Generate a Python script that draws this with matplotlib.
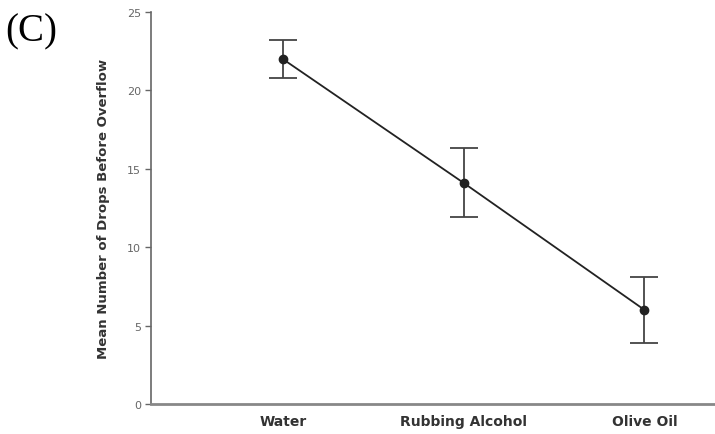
import matplotlib
matplotlib.use("Agg")
import matplotlib.pyplot as plt

liquids = ["Water", "Rubbing Alcohol", "Olive Oil"]
mean_drops = [22.0, 14.1, 6.0]
err_drops = [1.2, 2.2, 2.1]
y_ticks = [0, 5, 10, 15, 20, 25]

fig = plt.figure(figsize=(7.15, 4.35), dpi=100)
ax = fig.add_axes([0.211, 0.069, 0.789, 0.901])

xs = list(range(len(liquids)))
ax.errorbar(xs, mean_drops, yerr=err_drops, color="#222222", lw=1.3,
            marker="o", ms=6, ecolor="#444444", elinewidth=1.3,
            capsize=10, capthick=1.3)

ax.set_xlim(-0.73, 2.39)
ax.set_ylim(0, 25)
ax.set_yticks(y_ticks)
ax.set_xticks(xs)
ax.set_xticklabels(liquids, fontsize=10, fontweight="bold", color="#333333")
ax.tick_params(axis="x", length=0, pad=7)
ax.tick_params(axis="y", length=4, width=1, color="#666666",
               labelsize=8, labelcolor="#666666", pad=3)

for s in ["top", "right"]:
    ax.spines[s].set_visible(False)
ax.spines["left"].set_color("#666666")
ax.spines["bottom"].set_color("#888888")
ax.spines["left"].set_linewidth(1.2)
ax.spines["bottom"].set_linewidth(2)

ax.set_ylabel("Mean Number of Drops Before Overflow", fontsize=9.5,
              fontweight="bold", color="#333333", labelpad=12)

fig.text(0.008, 0.97, "(C)", fontsize=28, family="Liberation Serif",
         va="top", ha="left", color="black")

fig.savefig("out.png", dpi=100)
